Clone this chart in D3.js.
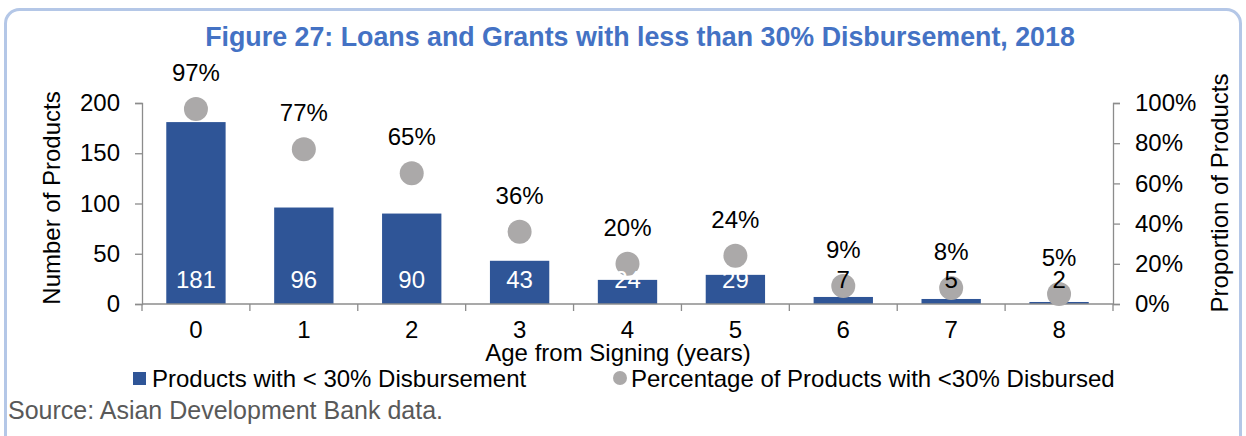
<!DOCTYPE html>
<html>
<head>
<meta charset="utf-8">
<script src="https://cdn.jsdelivr.net/npm/d3@7"></script>
<style>
  html, body { margin: 0; padding: 0; background: #fff; }
  svg { display: block; font-family: "Liberation Sans", Arial, sans-serif; }
</style>
</head>
<body>
<svg id="chart" width="1246" height="436"></svg>
<script>
// Age from signing (years)
const categories = ["0", "1", "2", "3", "4", "5", "6", "7", "8"];
// Number of products with < 30% disbursement
const products = [181, 96, 90, 43, 24, 29, 7, 5, 2];
// Share of products with < 30% disbursed (%)
const percentages = [97, 77, 65, 36, 20, 24, 9, 8, 5];
const leftTicks = [0, 50, 100, 150, 200];
const rightTicks = [0, 20, 40, 60, 80, 100];

const svg = d3.select("#chart");
const plot = { left: 142, right: 1113, top: 103, bottom: 304 };

const barColor = "#2F5597";
const dotColor = "#ABA9A9";
const axisColor = "#8C8C8C";
const FS = 24;

// Outer frame
svg.append("rect")
  .attr("x", 5.5).attr("y", 9.5)
  .attr("width", 1235).attr("height", 460)
  .attr("rx", 14).attr("ry", 14)
  .attr("fill", "#fff")
  .attr("stroke", "#B4C7E7").attr("stroke-width", 3);

// Title
svg.append("text")
  .attr("x", 640).attr("y", 46)
  .attr("text-anchor", "middle")
  .attr("font-size", 26.8).attr("font-weight", "bold")
  .attr("fill", "#4472C4")
  .text("Figure 27: Loans and Grants with less than 30% Disbursement, 2018");

const x = d3.scaleBand().domain(categories).range([plot.left, plot.right]).paddingInner(0.45).paddingOuter(0.225);
const xOuter = d3.scaleBand().domain(categories).range([plot.left, plot.right]);
const y = d3.scaleLinear().domain([0, 200]).range([plot.bottom, plot.top]);
const y2 = d3.scaleLinear().domain([0, 100]).range([plot.bottom, plot.top]);

// Left axis
const gL = svg.append("g").attr("transform", `translate(${plot.left},0)`)
  .call(d3.axisLeft(y).tickValues(leftTicks).tickSize(7).tickPadding(15));
// Right axis
const gR = svg.append("g").attr("transform", `translate(${plot.right},0)`)
  .call(d3.axisRight(y2).tickValues(rightTicks).tickSize(7).tickPadding(15).tickFormat(d => d + "%"));
[gL, gR].forEach(g => {
  g.select(".domain").attr("stroke", axisColor).attr("stroke-width", 1.3);
  g.selectAll(".tick line").attr("stroke", axisColor).attr("stroke-width", 1.3);
  g.selectAll(".tick text").attr("font-size", FS).attr("fill", "#000")
    .attr("font-family", "Liberation Sans, Arial, sans-serif");
});

// Bars
svg.append("g").selectAll("rect").data(products).join("rect")
  .attr("x", (d, i) => x(categories[i]))
  .attr("width", x.bandwidth())
  .attr("y", d => y(d))
  .attr("height", d => plot.bottom - y(d))
  .attr("fill", barColor);

// X axis with category boundary ticks
const gX = svg.append("g");
gX.append("line")
  .attr("x1", plot.left).attr("x2", plot.right)
  .attr("y1", plot.bottom).attr("y2", plot.bottom)
  .attr("stroke", axisColor).attr("stroke-width", 1.3);
gX.selectAll("line.tk").data(categories.concat(["end"])).join("line")
  .attr("class", "tk")
  .attr("x1", (d, i) => plot.left + i * xOuter.step())
  .attr("x2", (d, i) => plot.left + i * xOuter.step())
  .attr("y1", plot.bottom).attr("y2", plot.bottom + 7)
  .attr("stroke", axisColor).attr("stroke-width", 1.3);
gX.selectAll("text").data(categories).join("text")
  .attr("x", d => xOuter(d) + xOuter.bandwidth() / 2)
  .attr("y", 338)
  .attr("text-anchor", "middle")
  .attr("font-size", FS)
  .text(d => d);

// Percentage dots
svg.append("g").selectAll("circle").data(percentages).join("circle")
  .attr("cx", (d, i) => xOuter(categories[i]) + xOuter.bandwidth() / 2)
  .attr("cy", d => y2(d))
  .attr("r", 12)
  .attr("fill", dotColor);

// Bar value labels at the base of each bar, drawn above the dots
svg.append("g").selectAll("text").data(products).join("text")
  .attr("x", (d, i) => x(categories[i]) + x.bandwidth() / 2)
  .attr("y", 288)
  .attr("text-anchor", "middle")
  .attr("font-size", FS)
  .attr("fill", d => (plot.bottom - y(d)) > 18 ? "#fff" : "#000")
  .text(d => d);

// Percentage labels
svg.append("g").selectAll("text").data(percentages).join("text")
  .attr("x", (d, i) => xOuter(categories[i]) + xOuter.bandwidth() / 2)
  .attr("y", d => y2(d) - 28)
  .attr("text-anchor", "middle")
  .attr("font-size", FS)
  .text(d => d + "%");

// Axis titles
svg.append("text")
  .attr("transform", `translate(60,198) rotate(-90)`)
  .attr("text-anchor", "middle")
  .attr("font-size", FS)
  .text("Number of Products");
svg.append("text")
  .attr("transform", `translate(1228,193) rotate(-90)`)
  .attr("text-anchor", "middle")
  .attr("font-size", FS)
  .text("Proportion of Products");
svg.append("text")
  .attr("x", 618).attr("y", 361)
  .attr("text-anchor", "middle")
  .attr("font-size", FS)
  .text("Age from Signing (years)");

// Legend
const lg = svg.append("g");
lg.append("rect").attr("x", 133).attr("y", 372).attr("width", 13).attr("height", 13).attr("fill", barColor);
lg.append("text").attr("x", 152).attr("y", 387).attr("font-size", FS).text("Products with < 30% Disbursement");
lg.append("circle").attr("cx", 620).attr("cy", 378).attr("r", 7).attr("fill", dotColor);
lg.append("text").attr("x", 631).attr("y", 387).attr("font-size", FS).text("Percentage of Products with <30% Disbursed");

// Source note
svg.append("text")
  .attr("x", 8).attr("y", 419)
  .attr("font-size", 25)
  .attr("fill", "#595959")
  .text("Source: Asian Development Bank data.");
</script>
</body>
</html>
